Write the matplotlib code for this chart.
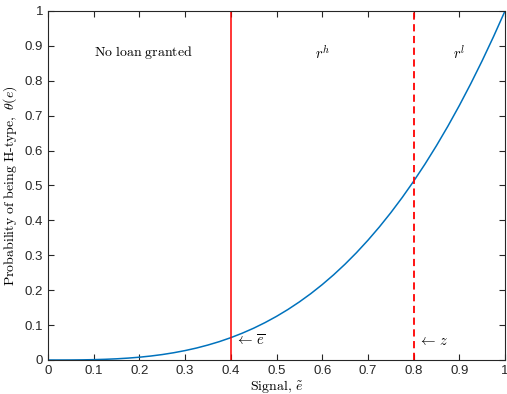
import matplotlib
matplotlib.use("Agg")
import matplotlib.pyplot as plt

plt.rcParams['mathtext.fontset'] = 'cm'
plt.rcParams['font.family'] = ['Liberation Sans', 'DejaVu Sans']

# values
signal = [0.0, 0.025, 0.05, 0.075, 0.1, 0.125, 0.15, 0.175, 0.2, 0.225, 0.25,
          0.275, 0.3, 0.325, 0.35, 0.375, 0.4, 0.425, 0.45, 0.475, 0.5,
          0.525, 0.55, 0.575, 0.6, 0.625, 0.65, 0.675, 0.7, 0.725, 0.75,
          0.775, 0.8, 0.825, 0.85, 0.875, 0.9, 0.925, 0.95, 0.975, 1.0]
prob_h = [0.0, 0.0, 0.0001, 0.0004, 0.001, 0.002, 0.0034, 0.0054, 0.008, 0.0114, 0.0156,
          0.0208, 0.027, 0.0343, 0.0429, 0.0527, 0.064, 0.0768, 0.0911, 0.1072, 0.125,
          0.1447, 0.1664, 0.1901, 0.216, 0.2441, 0.2746, 0.3075, 0.343, 0.3811, 0.4219,
          0.4655, 0.512, 0.5615, 0.6141, 0.6699, 0.729, 0.7915, 0.8574, 0.9269, 1.0]
e_bar = 0.4
z = 0.8
ticks = [0, 0.1, 0.2, 0.3, 0.4, 0.5, 0.6, 0.7, 0.8, 0.9, 1]
tick_labels = ['0', '0.1', '0.2', '0.3', '0.4', '0.5', '0.6', '0.7', '0.8', '0.9', '1']

fig = plt.figure(figsize=(5.07, 3.94), dpi=100)
ax = fig.add_axes([48/507, 1 - 360/394, (505-48)/507, (360-11)/394])

ax.plot(signal, prob_h, color='#0072BD', lw=1.1)
ax.axvline(e_bar, color='#FF0000', lw=1.1)
ax.axvline(z, color='#FF0000', lw=1.3, ls=(0, (4, 2.5)))

ax.set_xlim(0, 1); ax.set_ylim(0, 1)
ax.set_xticks(ticks); ax.set_xticklabels(tick_labels)
ax.set_yticks(ticks); ax.set_yticklabels(tick_labels)
ax.tick_params(direction='in', top=True, right=True, labelsize=9.5, colors='#262626', length=4)
for s in ax.spines.values():
    s.set_color('#262626'); s.set_linewidth(0.8)

ax.text(0.209, 0.88, r'$\mathrm{No\ loan\ granted}$', ha='center', va='center', fontsize=10)
ax.text(0.6, 0.88, r'$r^h$', ha='center', va='center', fontsize=10.5)
ax.text(0.9, 0.88, r'$r^l$', ha='center', va='center', fontsize=10.5)
ax.text(0.41, 0.055, r'$\leftarrow\,\overline{e}$', ha='left', va='center', fontsize=10.5)
ax.text(0.81, 0.055, r'$\leftarrow\,z$', ha='left', va='center', fontsize=10.5)

ax.set_xlabel(r'$\mathrm{Signal,}\,\tilde{e}$', fontsize=10, labelpad=1)
ax.set_ylabel(r'$\mathrm{Probability\ of\ being\ H\text{-}type,}\ \theta(e)$', fontsize=10, labelpad=4)

fig.savefig('out.png', dpi=100)
